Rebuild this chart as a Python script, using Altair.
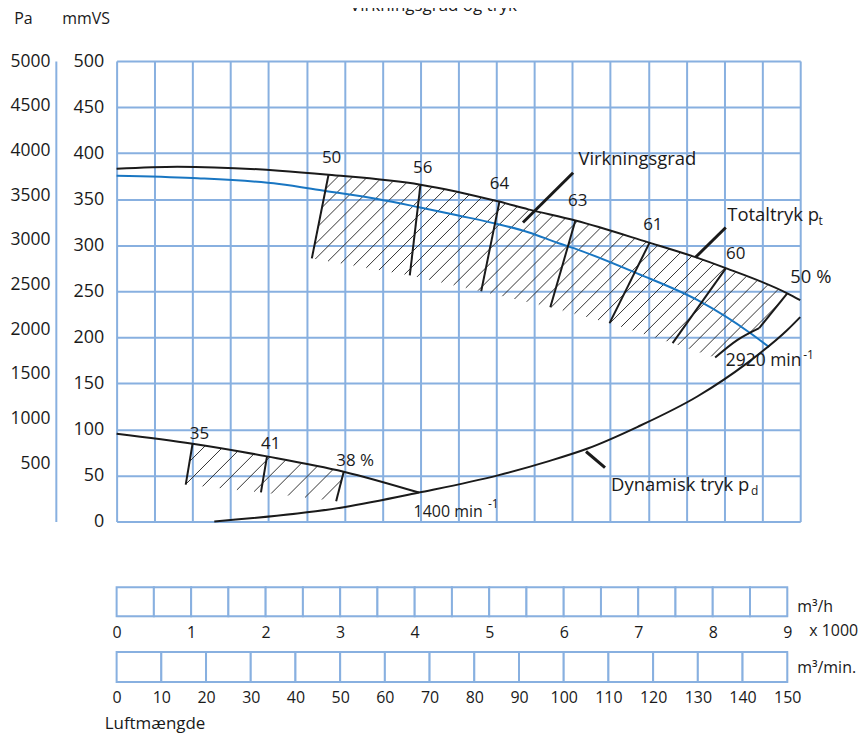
import altair as alt
import pandas as pd
import numpy as np

FONT = "Open Sans"
GRID = "#88b0e0"
INK = "#1a1a1a"
CURVE_BLUE = "#1976c2"
W, H = 686, 462       # main plot area
BW = 673              # bottom scale bars

# ---------------- data (x: 1000 m3/h, y: mmVS) ----------------
total_x = [0, 0.8, 2.14, 2.79, 4.0, 5.02, 5.42, 6.04, 6.99, 7.62, 8.02, 8.83, 9.0]
total_y = [383, 385.3, 381, 376.6, 365.8, 347.7, 339, 326.8, 303.4, 287.1, 275.2, 247.8, 240.3]

blue_x = [0, 1.0, 2.14, 2.75, 3.45, 3.98, 4.5, 5.0, 5.42, 5.81, 6.08, 6.86, 7.65, 8.35, 8.59]
blue_y = [375.5, 373, 366.6, 359, 350, 341.3, 332.3, 323.3, 314.2, 302.5, 295, 269.2, 240.3, 204.2, 189.5]

dyn_x = [1.286, 2.99, 3.98, 5.02, 5.68, 6.21, 6.86, 7.65, 8.3, 8.83, 9.0]
dyn_y = [0, 15.5, 31.4, 50.1, 65.3, 79.5, 102.8, 136, 172, 208, 222]

low_x = [0, 1.0, 1.98, 2.99, 3.98]
low_y = [95.2, 84.4, 70.7, 54.1, 31.4]

# efficiency marks on the 2920 min-1 curve
eff_labels = ["50", "56", "64", "63", "61", "60", "50 %"]
eff_top_x = [2.79, 4.0, 5.04, 6.04, 7.02, 8.02, 8.83]
eff_top_y = [376.6, 365.5, 347.4, 326.8, 303.4, 274.9, 247.8]
eff_bot_x = [2.57, 3.86, 4.80, 5.71, 6.49, 7.32, 8.46]
eff_bot_y = [285.7, 267.3, 250, 232.7, 215.4, 193.7, 210]
arc_x = [7.88, 8.17, 8.46]
arc_y = [178, 197, 210]

# efficiency marks on the 1400 min-1 curve
leff_labels = ["35", "41", "38 %"]
leff_top_x = [1.0, 1.98, 2.99]
leff_top_y = [84.4, 70.7, 54.1]
leff_bot_x = [0.91, 1.90, 2.89]
leff_bot_y = [40, 31.7, 22]

# pointer lines
ptr_x = [6.01, 8.02, 6.18]
ptr_y = [378.8, 319.3, 76]
ptr_x2 = [5.35, 7.62, 6.43]
ptr_y2 = [324.7, 286.8, 58.4]

# labels
num_text = ["50", "56", "64", "63", "61", "60", "35", "41", "38 %"]
num_x = [2.83, 4.03, 5.04, 6.07, 7.06, 8.15, 1.09, 2.03, 3.14]
num_y = [395, 384.2, 366.9, 348.5, 322.5, 290, 95.2, 84.1, 65.3]

lab_text = ["50 %", "Virkningsgrad", "Totaltryk p", "Dynamisk tryk p"]
lab_x = [8.87, 6.08, 8.04, 6.51]
lab_y = [265.5, 393.6, 332.3, 39.3]

rpm_text = ["2920 min", "1400 min"]
rpm_x = [8.02, 3.91]
rpm_y = [174.6, 10.5]
rpm_size = [17.5, 16]

sub_text = ["t", "d", "-1", "-1"]
sub_x = [9.27, 8.40, 9.11, 4.96]
sub_y = [326.5, 33.5, 181, 18.6]

pa_ticks = [500, 1000, 1500, 2000, 2500, 3000, 3500, 4000, 4500, 5000]
mm_ticks = [0, 50, 100, 150, 200, 250, 300, 350, 400, 450, 500]
grid_x = [i * 0.5 for i in range(19)]

h_edges = [i * 0.5 for i in range(19)]        # m3/h x1000 cells
h_labels = [0, 1, 2, 3, 4, 5, 6, 7, 8, 9]
m_edges = [i * 10 for i in range(16)]         # m3/min cells
m_labels = [0, 10, 20, 30, 40, 50, 60, 70, 80, 90, 100, 110, 120, 130, 140, 150]

# ---------------- hatch geometry (45 deg in screen space) ----------------
SX, SY = W / 9.0, H / 500.0


def hatch(poly, spacing, phase=0.0):
    P = [(x * SX, y * SY) for x, y in poly]
    d = [Y - X for X, Y in P]
    segs = []
    c = np.floor(min(d) / spacing) * spacing + phase
    while c < max(d):
        pts = []
        n = len(P)
        for i in range(n):
            (X1, Y1), (X2, Y2) = P[i], P[(i + 1) % n]
            d1, d2 = Y1 - X1 - c, Y2 - X2 - c
            if (d1 < 0) != (d2 < 0):
                t = d1 / (d1 - d2)
                pts.append((X1 + t * (X2 - X1), Y1 + t * (Y2 - Y1)))
        pts.sort()
        for a, b in zip(pts[0::2], pts[1::2]):
            segs.append({"x": a[0] / SX, "y": a[1] / SY, "x2": b[0] / SX, "y2": b[1] / SY})
        c += spacing
    return segs


top_part = [(x, y) for x, y in zip(total_x, total_y) if eff_top_x[0] <= x <= eff_top_x[-1]]
upper_poly = top_part + [(eff_bot_x[-1], eff_bot_y[-1])] + list(zip(arc_x[::-1][1:], arc_y[::-1][1:])) \
    + list(zip(eff_bot_x[:-1][::-1], eff_bot_y[:-1][::-1]))
lower_poly = list(zip(leff_top_x, leff_top_y)) + list(zip(leff_bot_x[::-1], leff_bot_y[::-1]))
hatch_df = pd.DataFrame(hatch(upper_poly, 15, 4) + hatch(lower_poly, 19, 6))

# ---------------- encodings ----------------
xscale = alt.Scale(domain=[0, 9], nice=False, zero=False)
yscale = alt.Scale(domain=[0, 500], nice=False, zero=False)
xaxis = alt.Axis(values=grid_x, grid=True, labels=False, ticks=False, domain=False, title=None,
                 gridColor=GRID, gridWidth=2, gridOpacity=1)
yaxis = alt.Axis(values=mm_ticks, grid=True, ticks=False, domain=False, title=None,
                 gridColor=GRID, gridWidth=2, gridOpacity=1, labelPadding=13,
                 labelFontSize=18, labelFont=FONT, labelColor=INK)


def X(f):
    return alt.X(f"{f}:Q", scale=xscale, axis=xaxis)


def Y(f):
    return alt.Y(f"{f}:Q", scale=yscale, axis=yaxis)


def curve(xs, ys, color=INK, width=2):
    df = pd.DataFrame({"x": xs, "y": ys})
    return alt.Chart(df).mark_line(color=color, strokeWidth=width, interpolate="monotone").encode(
        x=X("x"), y=Y("y"))


def segs(df, width=2, color=INK):
    return alt.Chart(df).mark_rule(color=color, strokeWidth=width).encode(
        x=X("x"), y=Y("y"), x2="x2:Q", y2="y2:Q")


eff_df = pd.DataFrame({"x": eff_top_x + leff_top_x, "y": eff_top_y + leff_top_y,
                       "x2": eff_bot_x + leff_bot_x, "y2": eff_bot_y + leff_bot_y})
ptr_df = pd.DataFrame({"x": ptr_x, "y": ptr_y, "x2": ptr_x2, "y2": ptr_y2})

num_df = pd.DataFrame({"text": num_text, "x": num_x, "y": num_y})
lab_df = pd.DataFrame({"text": lab_text, "x": lab_x, "y": lab_y})
rpm_df = pd.DataFrame({"text": rpm_text, "x": rpm_x, "y": rpm_y, "fs": rpm_size})
sub_df = pd.DataFrame({"text": sub_text, "x": sub_x, "y": sub_y})

txt = dict(font=FONT, color=INK, baseline="middle")
num_layer = alt.Chart(num_df).mark_text(align="center", fontSize=17, **txt).encode(
    x=X("x"), y=Y("y"), text="text:N")
lab_layer = alt.Chart(lab_df).mark_text(align="left", fontSize=18.5, **txt).encode(
    x=X("x"), y=Y("y"), text="text:N")
rpm_layer = alt.Chart(rpm_df).mark_text(align="left", **txt).encode(
    x=X("x"), y=Y("y"), text="text:N", size=alt.Size("fs:Q", scale=None, legend=None))
sub_layer = alt.Chart(sub_df).mark_text(align="center", fontSize=12, **txt).encode(
    x=X("x"), y=Y("y"), text="text:N")


def free_text(s, px, py, size=17, align="center", baseline="middle"):
    return alt.Chart(pd.DataFrame({"t": [s]})).mark_text(
        font=FONT, fontSize=size, color=INK, align=align, baseline=baseline).encode(
        text="t:N", x=alt.value(px), y=alt.value(py))


inner = alt.layer(
    alt.Chart(hatch_df).mark_rule(color="#333333", strokeWidth=1).encode(
        x=X("x"), y=Y("y"), x2="x2:Q", y2="y2:Q"),
    curve(total_x, total_y),
    curve(blue_x, blue_y, CURVE_BLUE),
    curve(dyn_x, dyn_y),
    curve(low_x, low_y),
    curve(arc_x, arc_y),
    segs(eff_df, 2),
    segs(ptr_df, 3),
    num_layer, lab_layer, rpm_layer, sub_layer,
    free_text("Virkningsgrad og tryk", 318, -50, 17, "center", "alphabetic"),
    free_text("Pa", -93.5, -42, 16),
    free_text("mmVS", -30.5, -42, 16),
)

pa_layer = alt.Chart(pd.DataFrame({"pa": pa_ticks})).mark_point(opacity=0).encode(
    y=alt.Y("pa:Q", scale=alt.Scale(domain=[-150, 5000], nice=False, zero=False),
            axis=alt.Axis(orient="left", offset=61, values=pa_ticks, format="d", grid=False,
                          ticks=False, domain=True, domainColor=GRID, domainWidth=2,
                          labelPadding=6, labelFontSize=17.5, labelFont=FONT, labelColor=INK,
                          title=None)))

main = alt.layer(inner, pa_layer).resolve_scale(y="independent").properties(width=W, height=H)

# ---------------- bottom scales ----------------
h_df = pd.DataFrame({"a": h_edges[:-1], "b": h_edges[1:]})
m_df = pd.DataFrame({"a": m_edges[:-1], "b": m_edges[1:]})


def scale_bar(df, dom, labels, height, texts):
    bar = alt.Chart(df).mark_rect(fill="white", stroke=GRID, strokeWidth=2).encode(
        x=alt.X("a:Q", scale=alt.Scale(domain=dom, nice=False, zero=False),
                axis=alt.Axis(values=labels, grid=False, ticks=False, domain=False, title=None,
                              labelPadding=8, labelFontSize=16, labelFont=FONT, labelColor=INK,
                              labelFlush=False)),
        x2="b:Q")
    return alt.layer(bar, *texts).properties(width=BW, height=height)


spacer = alt.Chart(pd.DataFrame({"t": ["."]})).mark_text(opacity=0, fontSize=10, baseline="top").encode(
    text="t:N", x=alt.value(0), y=alt.value(-46))

bar1 = scale_bar(h_df, [0, 9], h_labels, 29, [
    spacer,
    free_text("m³/h", 683, 20, 16, "left"),
    free_text("x 1000", 695, 44, 16, "left"),
])
bar2 = scale_bar(m_df, [0, 150], m_labels, 30, [
    free_text("m³/min.", 683, 16, 16, "left"),
    free_text("Luftmængde", -12, 72, 17, "left"),
])

chart = alt.vconcat(main, bar1, bar2, spacing=9).properties(
    padding={"left": 1, "top": -13, "right": 0, "bottom": 8}
).configure_view(stroke=None).configure(font=FONT)

chart.save("out.html", embed_options={"renderer": "svg", "actions": False})
